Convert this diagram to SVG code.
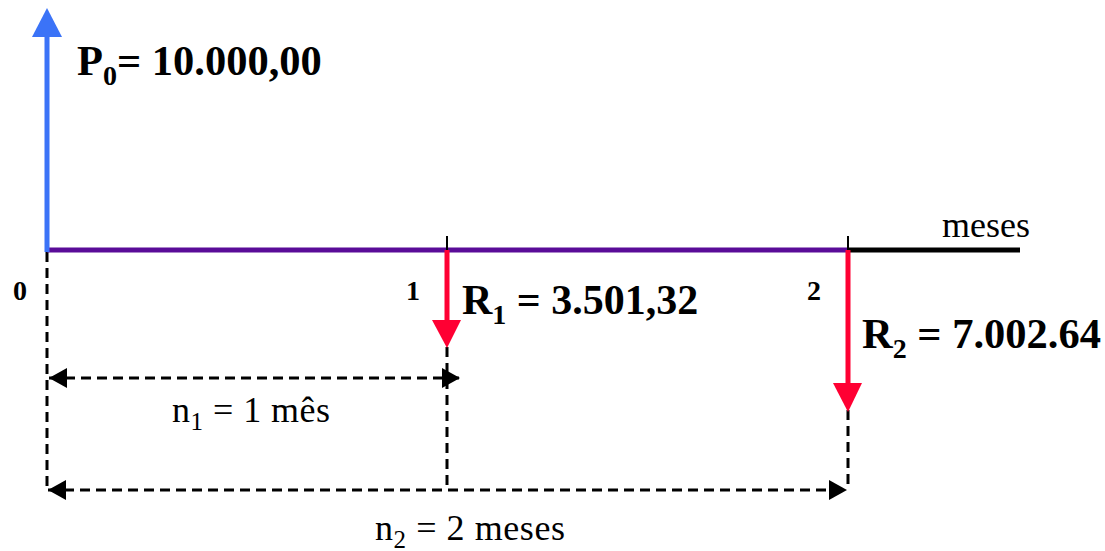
<svg xmlns="http://www.w3.org/2000/svg" width="1105" height="551" viewBox="0 0 1105 551">
<style>
.bold{font-family:"Liberation Serif","Times New Roman",serif;font-weight:bold;fill:#000}
.norm{font-family:"Liberation Serif","Times New Roman",serif;fill:#000}
.dash{stroke:#000;stroke-width:3;stroke-dasharray:10,6;fill:none}
</style>
<defs>
<marker id="dh" markerUnits="userSpaceOnUse" markerWidth="20" markerHeight="22" refX="18" refY="10" orient="auto-start-reverse">
<path d="M0,0 L18,10 L0,20 Z" fill="#000"/>
</marker>
</defs>
<rect width="1105" height="551" fill="#fff"/>
<g id="connectors">
<line class="dash" x1="47" y1="252" x2="47" y2="492"/>
<line class="dash" x1="447" y1="347" x2="447" y2="490"/>
<line class="dash" x1="848" y1="410" x2="848" y2="490"/>
<line class="dash" x1="49" y1="378" x2="460" y2="378" marker-start="url(#dh)" marker-end="url(#dh)"/>
<line class="dash" x1="48" y1="490" x2="847" y2="490" marker-start="url(#dh)" marker-end="url(#dh)"/>
</g>
<g id="axis">
<line x1="47" y1="250" x2="848" y2="250" stroke="#5a0c98" stroke-width="5"/>
<line x1="848" y1="250" x2="1020" y2="250" stroke="#000" stroke-width="5"/>
<line x1="447" y1="236" x2="447" y2="265" stroke="#000" stroke-width="2"/>
<line x1="848" y1="236" x2="848" y2="265" stroke="#000" stroke-width="2"/>
<text class="norm" x="942" y="237" font-size="36">meses</text>
</g>
<g id="p0">
<line x1="47" y1="252" x2="47" y2="34" stroke="#3b73f7" stroke-width="5"/>
<polygon points="47,8 62,37 32,37" fill="#3b73f7"/>
<text class="bold" x="77" y="75" font-size="42.5">P<tspan font-size="28" dy="10">0</tspan><tspan dy="-10">= 10.000,00</tspan></text>
<text class="bold" x="13" y="300" font-size="28">0</text>
</g>
<g id="r1">
<line x1="447" y1="250" x2="447" y2="322" stroke="#ff0033" stroke-width="5"/>
<polygon points="432,320 461,320 447,348" fill="#ff0033"/>
<text class="bold" x="406" y="300" font-size="28">1</text>
<text class="bold" x="462" y="314" font-size="42">R<tspan font-size="28" dy="10">1</tspan><tspan dy="-10"> = 3.501,32</tspan></text>
</g>
<g id="r2">
<line x1="848" y1="250" x2="848" y2="385" stroke="#ff0033" stroke-width="5"/>
<polygon points="833,383 862,383 848,412" fill="#ff0033"/>
<text class="bold" x="807" y="300" font-size="28">2</text>
<text class="bold" x="862" y="348" font-size="42.5">R<tspan font-size="28" dy="10">2</tspan><tspan dy="-10"> = 7.002.64</tspan></text>
</g>
<g id="n1">
<text class="norm" x="172" y="422" font-size="36" textLength="158">n<tspan font-size="25" dy="8">1</tspan><tspan dy="-8"> = 1 mês</tspan></text>
</g>
<g id="n2">
<text class="norm" x="375" y="540" font-size="36" textLength="190">n<tspan font-size="25" dy="8">2</tspan><tspan dy="-8"> = 2 meses</tspan></text>
</g>
</svg>
